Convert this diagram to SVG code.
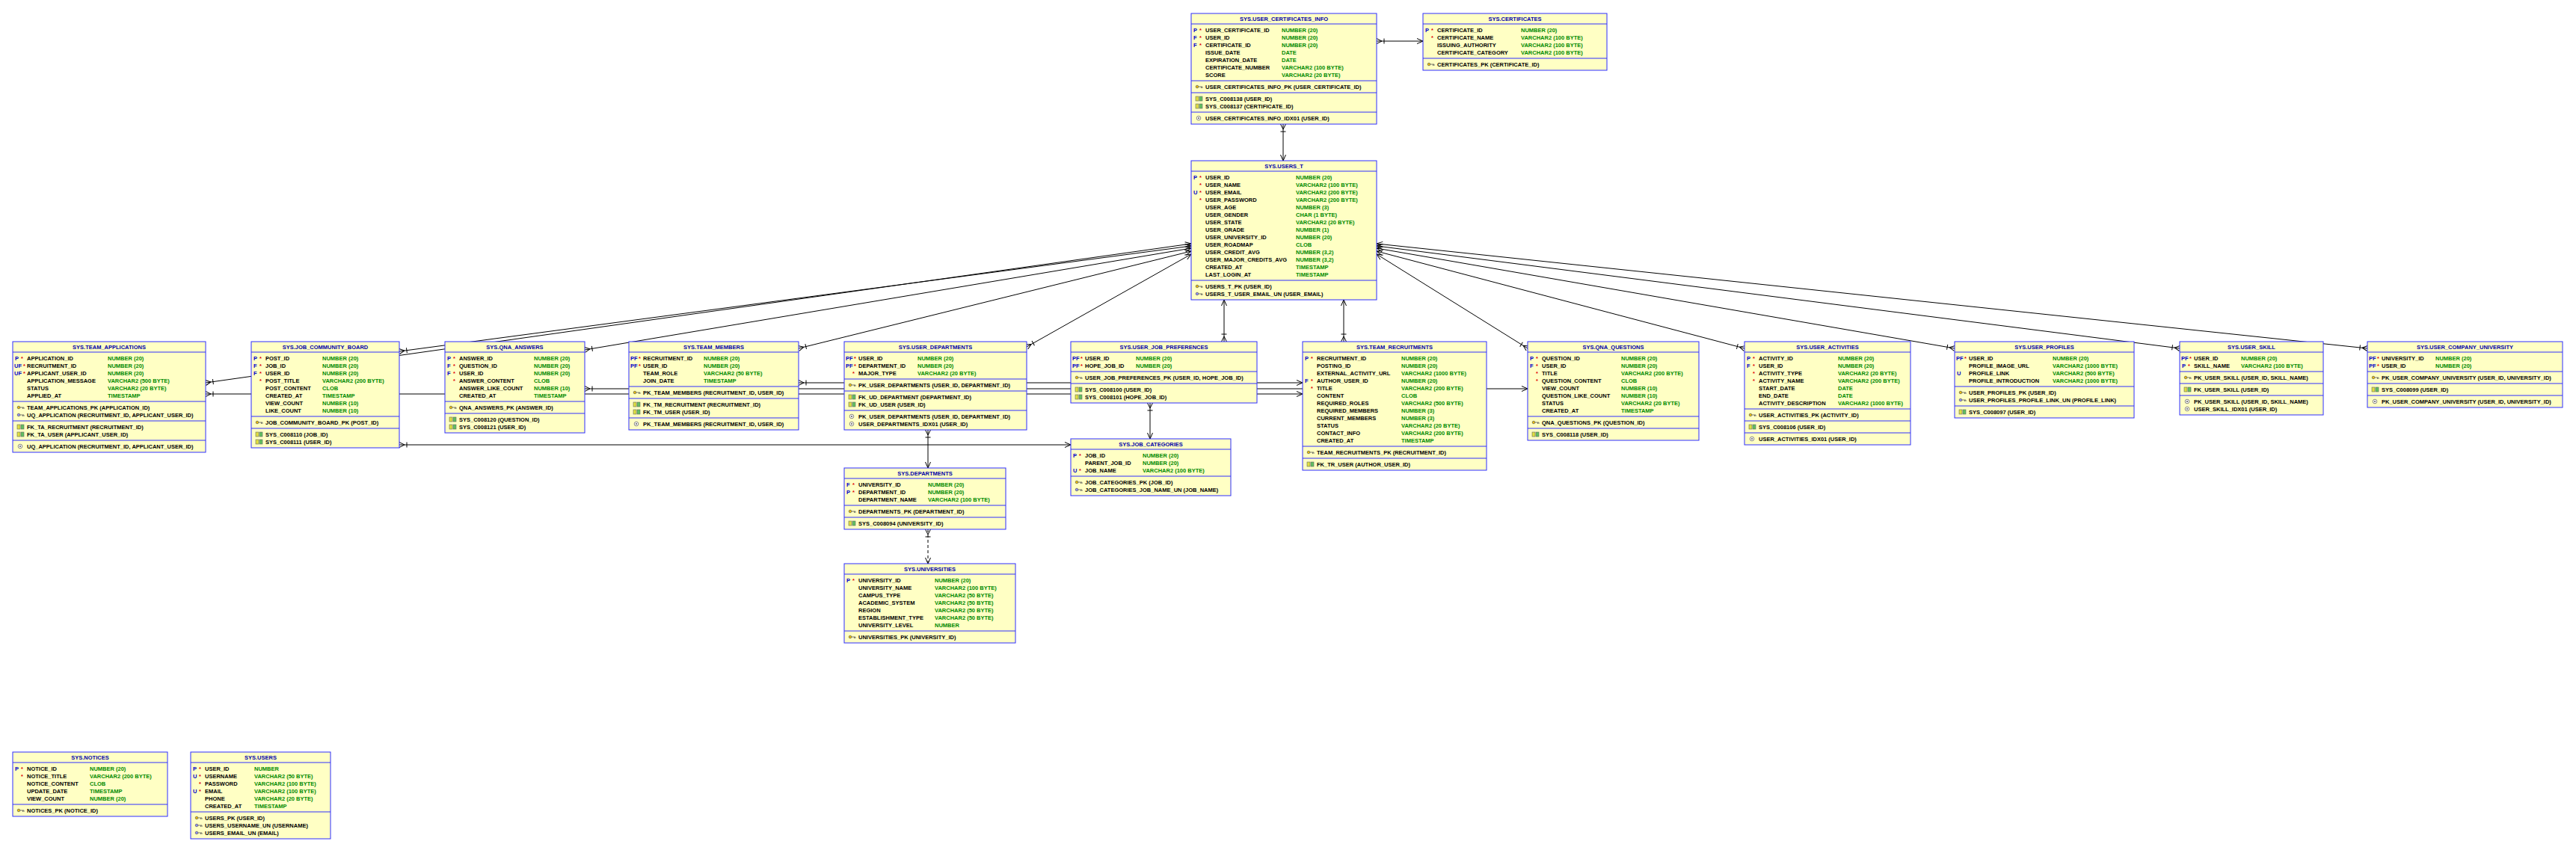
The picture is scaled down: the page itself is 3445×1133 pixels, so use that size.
<svg xmlns="http://www.w3.org/2000/svg" xmlns:xlink="http://www.w3.org/1999/xlink" width="3445" height="1133" viewBox="0 0 3445 1133">
<style>
text{font-family:"Liberation Sans",Arial,sans-serif;font-size:7.5px;font-weight:bold;fill:#000}
.b{fill:#FFFFC4;stroke:#2E2EFF;stroke-width:1}
.s{stroke:#2E2EFF;stroke-width:1;fill:none}
.h{fill:#0000A8;text-anchor:middle}
.k{fill:#0000C8}
.r{fill:#E00000}
.t{fill:#008A00}
.ln{stroke:#000;stroke-width:1;fill:none;marker-start:url(#cf);marker-end:url(#ar)}
.dash{stroke-dasharray:4 3}
</style>
<defs>
<marker id="ar" viewBox="-9 -5 10 10" refX="0" refY="0" markerWidth="10" markerHeight="10" markerUnits="userSpaceOnUse" orient="auto"><path d="M-8,-3.5L0,0L-8,3.5" fill="none" stroke="#000" stroke-width="1"/></marker>
<marker id="cf" viewBox="-12 -5 13 10" refX="0" refY="0" markerWidth="13" markerHeight="10" markerUnits="userSpaceOnUse" orient="auto-start-reverse"><path d="M-7,0L0,-3.5M-7,0L0,3.5M-10,-3.5V3.5" fill="none" stroke="#000" stroke-width="1"/></marker>
<g id="pk"><circle cx="2" cy="0" r="1.8" fill="#F0C000" stroke="#555" stroke-width=".7"/><path d="M3.8,0H9M7.5,0V2M9,0V2" stroke="#555" stroke-width=".8" fill="none"/></g>
<g id="uk"><circle cx="2" cy="0" r="1.8" fill="#9090FF" stroke="#555" stroke-width=".7"/><path d="M3.8,0H9M7.5,0V2M9,0V2" stroke="#555" stroke-width=".8" fill="none"/></g>
<g id="fk"><rect x="0" y="-3" width="4" height="6" fill="#E0E040" stroke="#666" stroke-width=".6"/><rect x="5" y="-3" width="4" height="6" fill="#60C060" stroke="#666" stroke-width=".6"/></g>
<g id="ix"><circle cx="4" cy="0" r="2.8" fill="#fff" stroke="#555" stroke-width=".7"/><circle cx="4" cy="0" r="1" fill="#555"/></g>
</defs>
<rect width="3445" height="1133" fill="#fff"/>
<g id="connectors">
<path class="ln" d="M1841,55L1903,55"/>
<path class="ln" d="M1716,166L1716,215"/>
<path class="ln" d="M275,512L1593,326"/>
<path class="ln" d="M534,470L1593,329"/>
<path class="ln" d="M782,468L1593,332"/>
<path class="ln" d="M1068,466L1593,336"/>
<path class="ln" d="M1373,464L1593,340"/>
<path class="ln" d="M1637,457L1637,401"/>
<path class="ln" d="M1797,457L1797,401"/>
<path class="ln" d="M2043,466L1841,340"/>
<path class="ln" d="M2333,466L1841,336"/>
<path class="ln" d="M2614,466L1841,332"/>
<path class="ln" d="M2915,466L1841,329"/>
<path class="ln" d="M3166,466L1841,326"/>
<path class="ln" d="M275,527L1742,527"/>
<path class="ln" d="M1068,512L1742,512"/>
<path class="ln" d="M782,520L2043,520"/>
<path class="ln" d="M534,595L1432,595"/>
<path class="ln" d="M1538,539L1538,587"/>
<path class="ln" d="M1241,575L1241,626"/>
<path class="ln dash" d="M1241,708L1241,754"/>
</g>

<g id="t-user-certificates-info" transform="translate(1593,18)">
<rect class="b" width="248" height="148"/>
<text class="h" x="124" y="9.7">SYS.USER_CERTIFICATES_INFO</text>
<path class="s" d="M0,14H248M0,90H248M0,106H248M0,132H248"/>
<text y="24.5"><tspan class="k" x="3">P</tspan><tspan class="r" x="11">*</tspan><tspan x="19">USER_CERTIFICATE_ID</tspan><tspan class="t" x="121">NUMBER (20)</tspan></text>
<text y="34.5"><tspan class="k" x="3">F</tspan><tspan class="r" x="11">*</tspan><tspan x="19">USER_ID</tspan><tspan class="t" x="121">NUMBER (20)</tspan></text>
<text y="44.5"><tspan class="k" x="3">F</tspan><tspan class="r" x="11">*</tspan><tspan x="19">CERTIFICATE_ID</tspan><tspan class="t" x="121">NUMBER (20)</tspan></text>
<text y="54.5"><tspan x="19">ISSUE_DATE</tspan><tspan class="t" x="121">DATE</tspan></text>
<text y="64.5"><tspan x="19">EXPIRATION_DATE</tspan><tspan class="t" x="121">DATE</tspan></text>
<text y="74.5"><tspan x="19">CERTIFICATE_NUMBER</tspan><tspan class="t" x="121">VARCHAR2 (100 BYTE)</tspan></text>
<text y="84.5"><tspan x="19">SCORE</tspan><tspan class="t" x="121">VARCHAR2 (20 BYTE)</tspan></text>
<use href="#pk" x="6" y="98"/><text x="19" y="100.7">USER_CERTIFICATES_INFO_PK (USER_CERTIFICATE_ID)</text>
<use href="#fk" x="6" y="114"/><text x="19" y="116.7">SYS_C008138 (USER_ID)</text>
<use href="#fk" x="6" y="124"/><text x="19" y="126.7">SYS_C008137 (CERTIFICATE_ID)</text>
<use href="#ix" x="6" y="140"/><text x="19" y="142.7">USER_CERTIFICATES_INFO_IDX01 (USER_ID)</text>
</g>

<g id="t-certificates" transform="translate(1903,18)">
<rect class="b" width="246" height="76"/>
<text class="h" x="123" y="9.7">SYS.CERTIFICATES</text>
<path class="s" d="M0,14H246M0,60H246"/>
<text y="24.5"><tspan class="k" x="3">P</tspan><tspan class="r" x="11">*</tspan><tspan x="19">CERTIFICATE_ID</tspan><tspan class="t" x="131">NUMBER (20)</tspan></text>
<text y="34.5"><tspan class="r" x="11">*</tspan><tspan x="19">CERTIFICATE_NAME</tspan><tspan class="t" x="131">VARCHAR2 (100 BYTE)</tspan></text>
<text y="44.5"><tspan x="19">ISSUING_AUTHORITY</tspan><tspan class="t" x="131">VARCHAR2 (100 BYTE)</tspan></text>
<text y="54.5"><tspan x="19">CERTIFICATE_CATEGORY</tspan><tspan class="t" x="131">VARCHAR2 (100 BYTE)</tspan></text>
<use href="#pk" x="6" y="68"/><text x="19" y="70.7">CERTIFICATES_PK (CERTIFICATE_ID)</text>
</g>

<g id="t-users-t" transform="translate(1593,215)">
<rect class="b" width="248" height="186"/>
<text class="h" x="124" y="9.7">SYS.USERS_T</text>
<path class="s" d="M0,14H248M0,160H248"/>
<text y="24.5"><tspan class="k" x="3">P</tspan><tspan class="r" x="11">*</tspan><tspan x="19">USER_ID</tspan><tspan class="t" x="140">NUMBER (20)</tspan></text>
<text y="34.5"><tspan class="r" x="11">*</tspan><tspan x="19">USER_NAME</tspan><tspan class="t" x="140">VARCHAR2 (100 BYTE)</tspan></text>
<text y="44.5"><tspan class="k" x="3">U</tspan><tspan class="r" x="11">*</tspan><tspan x="19">USER_EMAIL</tspan><tspan class="t" x="140">VARCHAR2 (200 BYTE)</tspan></text>
<text y="54.5"><tspan class="r" x="11">*</tspan><tspan x="19">USER_PASSWORD</tspan><tspan class="t" x="140">VARCHAR2 (200 BYTE)</tspan></text>
<text y="64.5"><tspan x="19">USER_AGE</tspan><tspan class="t" x="140">NUMBER (3)</tspan></text>
<text y="74.5"><tspan x="19">USER_GENDER</tspan><tspan class="t" x="140">CHAR (1 BYTE)</tspan></text>
<text y="84.5"><tspan x="19">USER_STATE</tspan><tspan class="t" x="140">VARCHAR2 (20 BYTE)</tspan></text>
<text y="94.5"><tspan x="19">USER_GRADE</tspan><tspan class="t" x="140">NUMBER (1)</tspan></text>
<text y="104.5"><tspan x="19">USER_UNIVERSITY_ID</tspan><tspan class="t" x="140">NUMBER (20)</tspan></text>
<text y="114.5"><tspan x="19">USER_ROADMAP</tspan><tspan class="t" x="140">CLOB</tspan></text>
<text y="124.5"><tspan x="19">USER_CREDIT_AVG</tspan><tspan class="t" x="140">NUMBER (3,2)</tspan></text>
<text y="134.5"><tspan x="19">USER_MAJOR_CREDITS_AVG</tspan><tspan class="t" x="140">NUMBER (3,2)</tspan></text>
<text y="144.5"><tspan x="19">CREATED_AT</tspan><tspan class="t" x="140">TIMESTAMP</tspan></text>
<text y="154.5"><tspan x="19">LAST_LOGIN_AT</tspan><tspan class="t" x="140">TIMESTAMP</tspan></text>
<use href="#pk" x="6" y="168"/><text x="19" y="170.7">USERS_T_PK (USER_ID)</text>
<use href="#uk" x="6" y="178"/><text x="19" y="180.7">USERS_T_USER_EMAIL_UN (USER_EMAIL)</text>
</g>

<g id="t-team-applications" transform="translate(17,457)">
<rect class="b" width="258" height="148"/>
<text class="h" x="129" y="9.7">SYS.TEAM_APPLICATIONS</text>
<path class="s" d="M0,14H258M0,80H258M0,106H258M0,132H258"/>
<text y="24.5"><tspan class="k" x="3">P</tspan><tspan class="r" x="11">*</tspan><tspan x="19">APPLICATION_ID</tspan><tspan class="t" x="127">NUMBER (20)</tspan></text>
<text y="34.5"><tspan class="k" x="2">UF</tspan><tspan class="r" x="14">*</tspan><tspan x="19">RECRUITMENT_ID</tspan><tspan class="t" x="127">NUMBER (20)</tspan></text>
<text y="44.5"><tspan class="k" x="2">UF</tspan><tspan class="r" x="14">*</tspan><tspan x="19">APPLICANT_USER_ID</tspan><tspan class="t" x="127">NUMBER (20)</tspan></text>
<text y="54.5"><tspan x="19">APPLICATION_MESSAGE</tspan><tspan class="t" x="127">VARCHAR2 (500 BYTE)</tspan></text>
<text y="64.5"><tspan x="19">STATUS</tspan><tspan class="t" x="127">VARCHAR2 (20 BYTE)</tspan></text>
<text y="74.5"><tspan x="19">APPLIED_AT</tspan><tspan class="t" x="127">TIMESTAMP</tspan></text>
<use href="#pk" x="6" y="88"/><text x="19" y="90.7">TEAM_APPLICATIONS_PK (APPLICATION_ID)</text>
<use href="#uk" x="6" y="98"/><text x="19" y="100.7">UQ_APPLICATION (RECRUITMENT_ID, APPLICANT_USER_ID)</text>
<use href="#fk" x="6" y="114"/><text x="19" y="116.7">FK_TA_RECRUITMENT (RECRUITMENT_ID)</text>
<use href="#fk" x="6" y="124"/><text x="19" y="126.7">FK_TA_USER (APPLICANT_USER_ID)</text>
<use href="#ix" x="6" y="140"/><text x="19" y="142.7">UQ_APPLICATION (RECRUITMENT_ID, APPLICANT_USER_ID)</text>
</g>

<g id="t-job-community-board" transform="translate(336,457)">
<rect class="b" width="198" height="142"/>
<text class="h" x="99" y="9.7">SYS.JOB_COMMUNITY_BOARD</text>
<path class="s" d="M0,14H198M0,100H198M0,116H198"/>
<text y="24.5"><tspan class="k" x="3">P</tspan><tspan class="r" x="11">*</tspan><tspan x="19">POST_ID</tspan><tspan class="t" x="95">NUMBER (20)</tspan></text>
<text y="34.5"><tspan class="k" x="3">F</tspan><tspan class="r" x="11">*</tspan><tspan x="19">JOB_ID</tspan><tspan class="t" x="95">NUMBER (20)</tspan></text>
<text y="44.5"><tspan class="k" x="3">F</tspan><tspan class="r" x="11">*</tspan><tspan x="19">USER_ID</tspan><tspan class="t" x="95">NUMBER (20)</tspan></text>
<text y="54.5"><tspan class="r" x="11">*</tspan><tspan x="19">POST_TITLE</tspan><tspan class="t" x="95">VARCHAR2 (200 BYTE)</tspan></text>
<text y="64.5"><tspan x="19">POST_CONTENT</tspan><tspan class="t" x="95">CLOB</tspan></text>
<text y="74.5"><tspan x="19">CREATED_AT</tspan><tspan class="t" x="95">TIMESTAMP</tspan></text>
<text y="84.5"><tspan x="19">VIEW_COUNT</tspan><tspan class="t" x="95">NUMBER (10)</tspan></text>
<text y="94.5"><tspan x="19">LIKE_COUNT</tspan><tspan class="t" x="95">NUMBER (10)</tspan></text>
<use href="#pk" x="6" y="108"/><text x="19" y="110.7">JOB_COMMUNITY_BOARD_PK (POST_ID)</text>
<use href="#fk" x="6" y="124"/><text x="19" y="126.7">SYS_C008110 (JOB_ID)</text>
<use href="#fk" x="6" y="134"/><text x="19" y="136.7">SYS_C008111 (USER_ID)</text>
</g>

<g id="t-qna-answers" transform="translate(595,457)">
<rect class="b" width="187" height="122"/>
<text class="h" x="93.5" y="9.7">SYS.QNA_ANSWERS</text>
<path class="s" d="M0,14H187M0,80H187M0,96H187"/>
<text y="24.5"><tspan class="k" x="3">P</tspan><tspan class="r" x="11">*</tspan><tspan x="19">ANSWER_ID</tspan><tspan class="t" x="119">NUMBER (20)</tspan></text>
<text y="34.5"><tspan class="k" x="3">F</tspan><tspan class="r" x="11">*</tspan><tspan x="19">QUESTION_ID</tspan><tspan class="t" x="119">NUMBER (20)</tspan></text>
<text y="44.5"><tspan class="k" x="3">F</tspan><tspan class="r" x="11">*</tspan><tspan x="19">USER_ID</tspan><tspan class="t" x="119">NUMBER (20)</tspan></text>
<text y="54.5"><tspan class="r" x="11">*</tspan><tspan x="19">ANSWER_CONTENT</tspan><tspan class="t" x="119">CLOB</tspan></text>
<text y="64.5"><tspan x="19">ANSWER_LIKE_COUNT</tspan><tspan class="t" x="119">NUMBER (10)</tspan></text>
<text y="74.5"><tspan x="19">CREATED_AT</tspan><tspan class="t" x="119">TIMESTAMP</tspan></text>
<use href="#pk" x="6" y="88"/><text x="19" y="90.7">QNA_ANSWERS_PK (ANSWER_ID)</text>
<use href="#fk" x="6" y="104"/><text x="19" y="106.7">SYS_C008120 (QUESTION_ID)</text>
<use href="#fk" x="6" y="114"/><text x="19" y="116.7">SYS_C008121 (USER_ID)</text>
</g>

<g id="t-team-members" transform="translate(841,457)">
<rect class="b" width="227" height="118"/>
<text class="h" x="113.5" y="9.7">SYS.TEAM_MEMBERS</text>
<path class="s" d="M0,14H227M0,60H227M0,76H227M0,102H227"/>
<text y="24.5"><tspan class="k" x="2">PF</tspan><tspan class="r" x="13">*</tspan><tspan x="19">RECRUITMENT_ID</tspan><tspan class="t" x="100">NUMBER (20)</tspan></text>
<text y="34.5"><tspan class="k" x="2">PF</tspan><tspan class="r" x="13">*</tspan><tspan x="19">USER_ID</tspan><tspan class="t" x="100">NUMBER (20)</tspan></text>
<text y="44.5"><tspan x="19">TEAM_ROLE</tspan><tspan class="t" x="100">VARCHAR2 (50 BYTE)</tspan></text>
<text y="54.5"><tspan x="19">JOIN_DATE</tspan><tspan class="t" x="100">TIMESTAMP</tspan></text>
<use href="#pk" x="6" y="68"/><text x="19" y="70.7">PK_TEAM_MEMBERS (RECRUITMENT_ID, USER_ID)</text>
<use href="#fk" x="6" y="84"/><text x="19" y="86.7">FK_TM_RECRUITMENT (RECRUITMENT_ID)</text>
<use href="#fk" x="6" y="94"/><text x="19" y="96.7">FK_TM_USER (USER_ID)</text>
<use href="#ix" x="6" y="110"/><text x="19" y="112.7">PK_TEAM_MEMBERS (RECRUITMENT_ID, USER_ID)</text>
</g>

<g id="t-user-departments" transform="translate(1129,457)">
<rect class="b" width="244" height="118"/>
<text class="h" x="122" y="9.7">SYS.USER_DEPARTMENTS</text>
<path class="s" d="M0,14H244M0,50H244M0,66H244M0,92H244"/>
<text y="24.5"><tspan class="k" x="2">PF</tspan><tspan class="r" x="13">*</tspan><tspan x="19">USER_ID</tspan><tspan class="t" x="98">NUMBER (20)</tspan></text>
<text y="34.5"><tspan class="k" x="2">PF</tspan><tspan class="r" x="13">*</tspan><tspan x="19">DEPARTMENT_ID</tspan><tspan class="t" x="98">NUMBER (20)</tspan></text>
<text y="44.5"><tspan class="r" x="11">*</tspan><tspan x="19">MAJOR_TYPE</tspan><tspan class="t" x="98">VARCHAR2 (20 BYTE)</tspan></text>
<use href="#pk" x="6" y="58"/><text x="19" y="60.7">PK_USER_DEPARTMENTS (USER_ID, DEPARTMENT_ID)</text>
<use href="#fk" x="6" y="74"/><text x="19" y="76.7">FK_UD_DEPARTMENT (DEPARTMENT_ID)</text>
<use href="#fk" x="6" y="84"/><text x="19" y="86.7">FK_UD_USER (USER_ID)</text>
<use href="#ix" x="6" y="100"/><text x="19" y="102.7">PK_USER_DEPARTMENTS (USER_ID, DEPARTMENT_ID)</text>
<use href="#ix" x="6" y="110"/><text x="19" y="112.7">USER_DEPARTMENTS_IDX01 (USER_ID)</text>
</g>

<g id="t-user-job-preferences" transform="translate(1432,457)">
<rect class="b" width="249" height="82"/>
<text class="h" x="124.5" y="9.7">SYS.USER_JOB_PREFERENCES</text>
<path class="s" d="M0,14H249M0,40H249M0,56H249"/>
<text y="24.5"><tspan class="k" x="2">PF</tspan><tspan class="r" x="13">*</tspan><tspan x="19">USER_ID</tspan><tspan class="t" x="87">NUMBER (20)</tspan></text>
<text y="34.5"><tspan class="k" x="2">PF</tspan><tspan class="r" x="13">*</tspan><tspan x="19">HOPE_JOB_ID</tspan><tspan class="t" x="87">NUMBER (20)</tspan></text>
<use href="#pk" x="6" y="48"/><text x="19" y="50.7">USER_JOB_PREFERENCES_PK (USER_ID, HOPE_JOB_ID)</text>
<use href="#fk" x="6" y="64"/><text x="19" y="66.7">SYS_C008100 (USER_ID)</text>
<use href="#fk" x="6" y="74"/><text x="19" y="76.7">SYS_C008101 (HOPE_JOB_ID)</text>
</g>

<g id="t-job-categories" transform="translate(1432,587)">
<rect class="b" width="214" height="76"/>
<text class="h" x="107" y="9.7">SYS.JOB_CATEGORIES</text>
<path class="s" d="M0,14H214M0,50H214"/>
<text y="24.5"><tspan class="k" x="3">P</tspan><tspan class="r" x="11">*</tspan><tspan x="19">JOB_ID</tspan><tspan class="t" x="96">NUMBER (20)</tspan></text>
<text y="34.5"><tspan x="19">PARENT_JOB_ID</tspan><tspan class="t" x="96">NUMBER (20)</tspan></text>
<text y="44.5"><tspan class="k" x="3">U</tspan><tspan class="r" x="11">*</tspan><tspan x="19">JOB_NAME</tspan><tspan class="t" x="96">VARCHAR2 (100 BYTE)</tspan></text>
<use href="#pk" x="6" y="58"/><text x="19" y="60.7">JOB_CATEGORIES_PK (JOB_ID)</text>
<use href="#uk" x="6" y="68"/><text x="19" y="70.7">JOB_CATEGORIES_JOB_NAME_UN (JOB_NAME)</text>
</g>

<g id="t-departments" transform="translate(1129,626)">
<rect class="b" width="216" height="82"/>
<text class="h" x="108" y="9.7">SYS.DEPARTMENTS</text>
<path class="s" d="M0,14H216M0,50H216M0,66H216"/>
<text y="24.5"><tspan class="k" x="3">F</tspan><tspan class="r" x="11">*</tspan><tspan x="19">UNIVERSITY_ID</tspan><tspan class="t" x="112">NUMBER (20)</tspan></text>
<text y="34.5"><tspan class="k" x="3">P</tspan><tspan class="r" x="11">*</tspan><tspan x="19">DEPARTMENT_ID</tspan><tspan class="t" x="112">NUMBER (20)</tspan></text>
<text y="44.5"><tspan x="19">DEPARTMENT_NAME</tspan><tspan class="t" x="112">VARCHAR2 (100 BYTE)</tspan></text>
<use href="#pk" x="6" y="58"/><text x="19" y="60.7">DEPARTMENTS_PK (DEPARTMENT_ID)</text>
<use href="#fk" x="6" y="74"/><text x="19" y="76.7">SYS_C008094 (UNIVERSITY_ID)</text>
</g>

<g id="t-universities" transform="translate(1129,754)">
<rect class="b" width="229" height="106"/>
<text class="h" x="114.5" y="9.7">SYS.UNIVERSITIES</text>
<path class="s" d="M0,14H229M0,90H229"/>
<text y="24.5"><tspan class="k" x="3">P</tspan><tspan class="r" x="11">*</tspan><tspan x="19">UNIVERSITY_ID</tspan><tspan class="t" x="121">NUMBER (20)</tspan></text>
<text y="34.5"><tspan x="19">UNIVERSITY_NAME</tspan><tspan class="t" x="121">VARCHAR2 (100 BYTE)</tspan></text>
<text y="44.5"><tspan x="19">CAMPUS_TYPE</tspan><tspan class="t" x="121">VARCHAR2 (50 BYTE)</tspan></text>
<text y="54.5"><tspan x="19">ACADEMIC_SYSTEM</tspan><tspan class="t" x="121">VARCHAR2 (50 BYTE)</tspan></text>
<text y="64.5"><tspan x="19">REGION</tspan><tspan class="t" x="121">VARCHAR2 (50 BYTE)</tspan></text>
<text y="74.5"><tspan x="19">ESTABLISHMENT_TYPE</tspan><tspan class="t" x="121">VARCHAR2 (50 BYTE)</tspan></text>
<text y="84.5"><tspan x="19">UNIVERSITY_LEVEL</tspan><tspan class="t" x="121">NUMBER</tspan></text>
<use href="#pk" x="6" y="98"/><text x="19" y="100.7">UNIVERSITIES_PK (UNIVERSITY_ID)</text>
</g>

<g id="t-team-recruitments" transform="translate(1742,457)">
<rect class="b" width="246" height="172"/>
<text class="h" x="123" y="9.7">SYS.TEAM_RECRUITMENTS</text>
<path class="s" d="M0,14H246M0,140H246M0,156H246"/>
<text y="24.5"><tspan class="k" x="3">P</tspan><tspan class="r" x="11">*</tspan><tspan x="19">RECRUITMENT_ID</tspan><tspan class="t" x="132">NUMBER (20)</tspan></text>
<text y="34.5"><tspan x="19">POSTING_ID</tspan><tspan class="t" x="132">NUMBER (20)</tspan></text>
<text y="44.5"><tspan x="19">EXTERNAL_ACTIVITY_URL</tspan><tspan class="t" x="132">VARCHAR2 (1000 BYTE)</tspan></text>
<text y="54.5"><tspan class="k" x="3">F</tspan><tspan class="r" x="11">*</tspan><tspan x="19">AUTHOR_USER_ID</tspan><tspan class="t" x="132">NUMBER (20)</tspan></text>
<text y="64.5"><tspan class="r" x="11">*</tspan><tspan x="19">TITLE</tspan><tspan class="t" x="132">VARCHAR2 (200 BYTE)</tspan></text>
<text y="74.5"><tspan x="19">CONTENT</tspan><tspan class="t" x="132">CLOB</tspan></text>
<text y="84.5"><tspan x="19">REQUIRED_ROLES</tspan><tspan class="t" x="132">VARCHAR2 (500 BYTE)</tspan></text>
<text y="94.5"><tspan x="19">REQUIRED_MEMBERS</tspan><tspan class="t" x="132">NUMBER (3)</tspan></text>
<text y="104.5"><tspan x="19">CURRENT_MEMBERS</tspan><tspan class="t" x="132">NUMBER (3)</tspan></text>
<text y="114.5"><tspan x="19">STATUS</tspan><tspan class="t" x="132">VARCHAR2 (20 BYTE)</tspan></text>
<text y="124.5"><tspan x="19">CONTACT_INFO</tspan><tspan class="t" x="132">VARCHAR2 (200 BYTE)</tspan></text>
<text y="134.5"><tspan x="19">CREATED_AT</tspan><tspan class="t" x="132">TIMESTAMP</tspan></text>
<use href="#pk" x="6" y="148"/><text x="19" y="150.7">TEAM_RECRUITMENTS_PK (RECRUITMENT_ID)</text>
<use href="#fk" x="6" y="164"/><text x="19" y="166.7">FK_TR_USER (AUTHOR_USER_ID)</text>
</g>

<g id="t-qna-questions" transform="translate(2043,457)">
<rect class="b" width="229" height="132"/>
<text class="h" x="114.5" y="9.7">SYS.QNA_QUESTIONS</text>
<path class="s" d="M0,14H229M0,100H229M0,116H229"/>
<text y="24.5"><tspan class="k" x="3">P</tspan><tspan class="r" x="11">*</tspan><tspan x="19">QUESTION_ID</tspan><tspan class="t" x="125">NUMBER (20)</tspan></text>
<text y="34.5"><tspan class="k" x="3">F</tspan><tspan class="r" x="11">*</tspan><tspan x="19">USER_ID</tspan><tspan class="t" x="125">NUMBER (20)</tspan></text>
<text y="44.5"><tspan class="r" x="11">*</tspan><tspan x="19">TITLE</tspan><tspan class="t" x="125">VARCHAR2 (200 BYTE)</tspan></text>
<text y="54.5"><tspan class="r" x="11">*</tspan><tspan x="19">QUESTION_CONTENT</tspan><tspan class="t" x="125">CLOB</tspan></text>
<text y="64.5"><tspan x="19">VIEW_COUNT</tspan><tspan class="t" x="125">NUMBER (10)</tspan></text>
<text y="74.5"><tspan x="19">QUESTION_LIKE_COUNT</tspan><tspan class="t" x="125">NUMBER (10)</tspan></text>
<text y="84.5"><tspan x="19">STATUS</tspan><tspan class="t" x="125">VARCHAR2 (20 BYTE)</tspan></text>
<text y="94.5"><tspan x="19">CREATED_AT</tspan><tspan class="t" x="125">TIMESTAMP</tspan></text>
<use href="#pk" x="6" y="108"/><text x="19" y="110.7">QNA_QUESTIONS_PK (QUESTION_ID)</text>
<use href="#fk" x="6" y="124"/><text x="19" y="126.7">SYS_C008118 (USER_ID)</text>
</g>

<g id="t-user-activities" transform="translate(2333,457)">
<rect class="b" width="222" height="138"/>
<text class="h" x="111" y="9.7">SYS.USER_ACTIVITIES</text>
<path class="s" d="M0,14H222M0,90H222M0,106H222M0,122H222"/>
<text y="24.5"><tspan class="k" x="3">P</tspan><tspan class="r" x="11">*</tspan><tspan x="19">ACTIVITY_ID</tspan><tspan class="t" x="125">NUMBER (20)</tspan></text>
<text y="34.5"><tspan class="k" x="3">F</tspan><tspan class="r" x="11">*</tspan><tspan x="19">USER_ID</tspan><tspan class="t" x="125">NUMBER (20)</tspan></text>
<text y="44.5"><tspan class="r" x="11">*</tspan><tspan x="19">ACTIVITY_TYPE</tspan><tspan class="t" x="125">VARCHAR2 (20 BYTE)</tspan></text>
<text y="54.5"><tspan class="r" x="11">*</tspan><tspan x="19">ACTIVITY_NAME</tspan><tspan class="t" x="125">VARCHAR2 (200 BYTE)</tspan></text>
<text y="64.5"><tspan x="19">START_DATE</tspan><tspan class="t" x="125">DATE</tspan></text>
<text y="74.5"><tspan x="19">END_DATE</tspan><tspan class="t" x="125">DATE</tspan></text>
<text y="84.5"><tspan x="19">ACTIVITY_DESCRIPTION</tspan><tspan class="t" x="125">VARCHAR2 (1000 BYTE)</tspan></text>
<use href="#pk" x="6" y="98"/><text x="19" y="100.7">USER_ACTIVITIES_PK (ACTIVITY_ID)</text>
<use href="#fk" x="6" y="114"/><text x="19" y="116.7">SYS_C008106 (USER_ID)</text>
<use href="#ix" x="6" y="130"/><text x="19" y="132.7">USER_ACTIVITIES_IDX01 (USER_ID)</text>
</g>

<g id="t-user-profiles" transform="translate(2614,457)">
<rect class="b" width="240" height="102"/>
<text class="h" x="120" y="9.7">SYS.USER_PROFILES</text>
<path class="s" d="M0,14H240M0,60H240M0,86H240"/>
<text y="24.5"><tspan class="k" x="2">PF</tspan><tspan class="r" x="13">*</tspan><tspan x="19">USER_ID</tspan><tspan class="t" x="131">NUMBER (20)</tspan></text>
<text y="34.5"><tspan x="19">PROFILE_IMAGE_URL</tspan><tspan class="t" x="131">VARCHAR2 (1000 BYTE)</tspan></text>
<text y="44.5"><tspan class="k" x="3">U</tspan><tspan x="19">PROFILE_LINK</tspan><tspan class="t" x="131">VARCHAR2 (500 BYTE)</tspan></text>
<text y="54.5"><tspan x="19">PROFILE_INTRODUCTION</tspan><tspan class="t" x="131">VARCHAR2 (1000 BYTE)</tspan></text>
<use href="#pk" x="6" y="68"/><text x="19" y="70.7">USER_PROFILES_PK (USER_ID)</text>
<use href="#uk" x="6" y="78"/><text x="19" y="80.7">USER_PROFILES_PROFILE_LINK_UN (PROFILE_LINK)</text>
<use href="#fk" x="6" y="94"/><text x="19" y="96.7">SYS_C008097 (USER_ID)</text>
</g>

<g id="t-user-skill" transform="translate(2915,457)">
<rect class="b" width="192" height="98"/>
<text class="h" x="96" y="9.7">SYS.USER_SKILL</text>
<path class="s" d="M0,14H192M0,40H192M0,56H192M0,72H192"/>
<text y="24.5"><tspan class="k" x="2">PF</tspan><tspan class="r" x="13">*</tspan><tspan x="19">USER_ID</tspan><tspan class="t" x="82">NUMBER (20)</tspan></text>
<text y="34.5"><tspan class="k" x="3">P</tspan><tspan class="r" x="11">*</tspan><tspan x="19">SKILL_NAME</tspan><tspan class="t" x="82">VARCHAR2 (100 BYTE)</tspan></text>
<use href="#pk" x="6" y="48"/><text x="19" y="50.7">PK_USER_SKILL (USER_ID, SKILL_NAME)</text>
<use href="#fk" x="6" y="64"/><text x="19" y="66.7">FK_USER_SKILL (USER_ID)</text>
<use href="#ix" x="6" y="80"/><text x="19" y="82.7">PK_USER_SKILL (USER_ID, SKILL_NAME)</text>
<use href="#ix" x="6" y="90"/><text x="19" y="92.7">USER_SKILL_IDX01 (USER_ID)</text>
</g>

<g id="t-user-company-university" transform="translate(3166,457)">
<rect class="b" width="261" height="88"/>
<text class="h" x="130.5" y="9.7">SYS.USER_COMPANY_UNIVERSITY</text>
<path class="s" d="M0,14H261M0,40H261M0,56H261M0,72H261"/>
<text y="24.5"><tspan class="k" x="2">PF</tspan><tspan class="r" x="13">*</tspan><tspan x="19">UNIVERSITY_ID</tspan><tspan class="t" x="91">NUMBER (20)</tspan></text>
<text y="34.5"><tspan class="k" x="2">PF</tspan><tspan class="r" x="13">*</tspan><tspan x="19">USER_ID</tspan><tspan class="t" x="91">NUMBER (20)</tspan></text>
<use href="#pk" x="6" y="48"/><text x="19" y="50.7">PK_USER_COMPANY_UNIVERSITY (USER_ID, UNIVERSITY_ID)</text>
<use href="#fk" x="6" y="64"/><text x="19" y="66.7">SYS_C008099 (USER_ID)</text>
<use href="#ix" x="6" y="80"/><text x="19" y="82.7">PK_USER_COMPANY_UNIVERSITY (USER_ID, UNIVERSITY_ID)</text>
</g>

<g id="t-notices" transform="translate(17,1006)">
<rect class="b" width="207" height="86"/>
<text class="h" x="103.5" y="9.7">SYS.NOTICES</text>
<path class="s" d="M0,14H207M0,70H207"/>
<text y="24.5"><tspan class="k" x="3">P</tspan><tspan class="r" x="11">*</tspan><tspan x="19">NOTICE_ID</tspan><tspan class="t" x="103">NUMBER (20)</tspan></text>
<text y="34.5"><tspan class="r" x="11">*</tspan><tspan x="19">NOTICE_TITLE</tspan><tspan class="t" x="103">VARCHAR2 (200 BYTE)</tspan></text>
<text y="44.5"><tspan x="19">NOTICE_CONTENT</tspan><tspan class="t" x="103">CLOB</tspan></text>
<text y="54.5"><tspan x="19">UPDATE_DATE</tspan><tspan class="t" x="103">TIMESTAMP</tspan></text>
<text y="64.5"><tspan x="19">VIEW_COUNT</tspan><tspan class="t" x="103">NUMBER (20)</tspan></text>
<use href="#pk" x="6" y="78"/><text x="19" y="80.7">NOTICES_PK (NOTICE_ID)</text>
</g>

<g id="t-users" transform="translate(255,1006)">
<rect class="b" width="187" height="116"/>
<text class="h" x="93.5" y="9.7">SYS.USERS</text>
<path class="s" d="M0,14H187M0,80H187"/>
<text y="24.5"><tspan class="k" x="3">P</tspan><tspan class="r" x="11">*</tspan><tspan x="19">USER_ID</tspan><tspan class="t" x="85">NUMBER</tspan></text>
<text y="34.5"><tspan class="k" x="3">U</tspan><tspan class="r" x="11">*</tspan><tspan x="19">USERNAME</tspan><tspan class="t" x="85">VARCHAR2 (50 BYTE)</tspan></text>
<text y="44.5"><tspan class="r" x="11">*</tspan><tspan x="19">PASSWORD</tspan><tspan class="t" x="85">VARCHAR2 (100 BYTE)</tspan></text>
<text y="54.5"><tspan class="k" x="3">U</tspan><tspan class="r" x="11">*</tspan><tspan x="19">EMAIL</tspan><tspan class="t" x="85">VARCHAR2 (100 BYTE)</tspan></text>
<text y="64.5"><tspan x="19">PHONE</tspan><tspan class="t" x="85">VARCHAR2 (20 BYTE)</tspan></text>
<text y="74.5"><tspan x="19">CREATED_AT</tspan><tspan class="t" x="85">TIMESTAMP</tspan></text>
<use href="#pk" x="6" y="88"/><text x="19" y="90.7">USERS_PK (USER_ID)</text>
<use href="#uk" x="6" y="98"/><text x="19" y="100.7">USERS_USERNAME_UN (USERNAME)</text>
<use href="#uk" x="6" y="108"/><text x="19" y="110.7">USERS_EMAIL_UN (EMAIL)</text>
</g>
</svg>
